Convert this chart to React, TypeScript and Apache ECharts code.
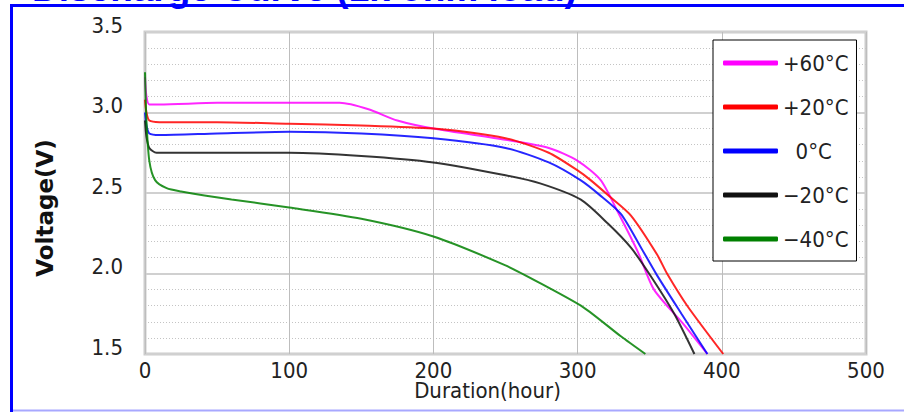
import React, { useEffect, useRef } from "react";
import * as echarts from "echarts";

const seriesNames = ["+60°C", "+20°C", "0°C", "\u221220°C", "\u221240°C"];
const seriesColors = ["#ff00ff", "#ff0000", "#0000ff", "#111111", "#008000"];

const hoursP60 = [0, 1, 3, 10, 50, 100, 135, 155, 175, 200, 250, 280, 300, 316, 328, 342, 353, 373, 390];
const voltsP60 = [3.22, 3.1, 3.05, 3.05, 3.06, 3.06, 3.06, 3.02, 2.95, 2.9, 2.83, 2.78, 2.7, 2.58, 2.38, 2.13, 1.9, 1.69, 1.5];

const hoursP20 = [0, 1, 3, 10, 50, 100, 150, 200, 250, 280, 300, 309, 322, 337, 355, 362, 376, 401];
const voltsP20 = [3.08, 3.0, 2.95, 2.94, 2.94, 2.93, 2.92, 2.9, 2.84, 2.75, 2.64, 2.58, 2.48, 2.36, 2.12, 2.0, 1.8, 1.5];

const hours0 = [0, 1, 3, 10, 50, 100, 150, 200, 250, 280, 302, 315, 330, 344, 355, 372, 390];
const volts0 = [3.0, 2.92, 2.87, 2.86, 2.87, 2.88, 2.87, 2.84, 2.78, 2.69, 2.58, 2.49, 2.37, 2.16, 1.99, 1.75, 1.5];

const hoursM20 = [0, 1, 3, 8, 50, 100, 150, 200, 250, 274, 302, 321, 337, 351, 367, 381];
const voltsM20 = [2.95, 2.85, 2.78, 2.75, 2.75, 2.75, 2.73, 2.69, 2.61, 2.56, 2.46, 2.31, 2.16, 1.98, 1.75, 1.5];

const hoursM40 = [0, 1, 3, 7, 15, 25, 60, 100, 150, 200, 250, 274, 304, 330, 347];
const voltsM40 = [3.25, 2.95, 2.7, 2.58, 2.53, 2.51, 2.46, 2.41, 2.34, 2.23, 2.05, 1.94, 1.79, 1.61, 1.5];

const xTicks = [0, 100, 200, 300, 400, 500];
const yTicks = [1.5, 2.0, 2.5, 3.0, 3.5];

const titleText = "Discharge Curve (1k ohm load)";
const xName = "Duration(hour)";
const yName = "Voltage(V)";

const allHours = [hoursP60, hoursP20, hours0, hoursM20, hoursM40];
const allVolts = [voltsP60, voltsP20, volts0, voltsM20, voltsM40];

const tickFont = "'DejaVu Sans Condensed', 'Liberation Sans Narrow', sans-serif";

export default function App() {
  const ref = useRef<HTMLDivElement>(null);
  useEffect(() => {
    if (!ref.current) return;
    const chart = echarts.init(ref.current, null, { renderer: "svg" });
    const series = seriesNames.map((name, i) => ({
      name,
      type: "line",
      data: allHours[i].map((t, j) => [t, allVolts[i][j]]),
      showSymbol: false,
      smooth: 0.25,
      lineStyle: { width: 2, color: seriesColors[i], opacity: 0.85 },
      itemStyle: { color: seriesColors[i] },
    }));
    chart.setOption({
      animation: false,
      backgroundColor: "#ffffff",
      grid: {
        left: 145,
        right: 38,
        top: 32,
        bottom: 58,
        show: true,
        borderColor: "#cccccc",
        borderWidth: 3,
        backgroundColor: "transparent",
      },
      legend: {
        left: 713,
        top: 40,
        orient: "vertical",
        icon: "roundRect",
        itemWidth: 55,
        itemHeight: 5,
        itemGap: 22,
        itemTextGap: 3,
        padding: [12, 8, 11, 10],
        borderColor: "#000000",
        borderWidth: 1,
        backgroundColor: "#ffffff",
        data: seriesNames,
        formatter: (n: string) => (n === "0°C" ? "\u2007" + n : n),
        textStyle: { fontFamily: tickFont, fontSize: 22, lineHeight: 22, color: "#222" },
      },
      xAxis: {
        type: "value",
        min: xTicks[0],
        max: xTicks[xTicks.length - 1],
        interval: 100,
        name: xName,
        nameLocation: "middle",
        nameGap: 25,
        nameMoveOverlap: false,
        nameTextStyle: { fontFamily: tickFont, fontSize: 22, lineHeight: 22, color: "#222", padding: [0, 36, 0, 0] },
        axisLine: { show: false },
        axisTick: { show: false },
        axisLabel: { fontFamily: tickFont, fontSize: 22, lineHeight: 20, color: "#222", margin: 6 },
        splitLine: { show: true, lineStyle: { color: "#bdbdbd", width: 1 } },
      },
      yAxis: {
        type: "value",
        min: yTicks[0],
        max: yTicks[yTicks.length - 1],
        interval: 0.5,
        name: yName,
        nameLocation: "middle",
        nameRotate: 90,
        nameGap: 89,
        nameMoveOverlap: false,
        nameTextStyle: {
          fontFamily: "'DejaVu Sans', sans-serif",
          fontWeight: "bold",
          fontSize: 23,
          color: "#111",
          padding: [0, 30, 0, 0],
        },
        axisLine: { show: false },
        axisTick: { show: false },
        axisLabel: {
          fontFamily: tickFont,
          fontSize: 22,
          color: "#222",
          margin: 22,
          verticalAlign: "bottom",
          lineHeight: 14,
          formatter: (v: number) => v.toFixed(1),
        },
        splitLine: { show: true, lineStyle: { color: "#d0d0d0", width: 2 } },
        minorTick: { show: false, splitNumber: 5 },
        minorSplitLine: { show: true, lineStyle: { color: "#c4c4c4", width: 1, type: [1, 2] } },
      },
      graphic: [
        {
          type: "text",
          left: 32,
          top: -30,
          silent: true,
          style: {
            text: titleText,
            fontFamily: "'Liberation Sans', Arial, sans-serif",
            fontWeight: "bold",
            fontSize: 37,
            fill: "#0000ff",
          },
        },
        {
          type: "line",
          silent: true,
          shape: { x1: 11.5, y1: 5.5, x2: 11.5, y2: 412 },
          style: { stroke: "#0000ff", lineWidth: 3 },
        },
        {
          type: "line",
          silent: true,
          shape: { x1: 10, y1: 5.5, x2: 904, y2: 5.5 },
          style: { stroke: "#0000ff", lineWidth: 3 },
        },
        {
          type: "line",
          silent: true,
          shape: { x1: 13, y1: 410.5, x2: 904, y2: 410.5 },
          style: { stroke: "#a8a8ff", lineWidth: 2 },
        },
      ],
      series,
    });
    return () => chart.dispose();
  }, []);
  return (
    <div
      ref={ref}
      style={{ position: "fixed", left: 0, top: 0, width: 904, height: 412 }}
    />
  );
}
